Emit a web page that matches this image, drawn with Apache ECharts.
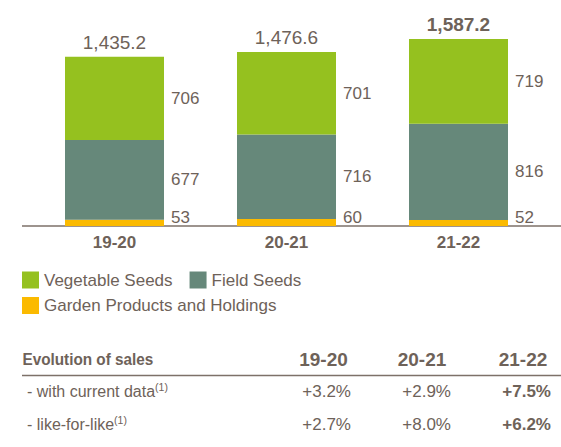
<!DOCTYPE html>
<html><head><meta charset="utf-8">
<script src="https://cdn.jsdelivr.net/npm/echarts@6/dist/echarts.min.js"></script>
<style>html,body{margin:0;padding:0;background:#fff}#c{width:561px;height:447px}</style>
</head><body><div id="c"></div>
<script>
// ---- data ----
const categories = ['19-20', '20-21', '21-22'];
const vegetableSeeds = [706, 701, 719];
const fieldSeeds = [677, 716, 816];
const gardenProducts = [53, 60, 52];
const totalLabels = ['1,435.2', '1,476.6', '1,587.2'];
const seriesNames = ['Vegetable Seeds', 'Field Seeds', 'Garden Products and Holdings'];
const tableTitle = 'Evolution of sales';
const tableColumns = ['19-20', '20-21', '21-22'];
const rowLabels = ['- with current data', '- like-for-like'];
const currentData = ['+3.2%', '+2.9%', '+7.5%'];
const likeForLike = ['+2.7%', '+8.0%', '+6.2%'];

// ---- styling ----
const TXT = '#6e6259';
const LINE = '#7d7169';
const COLORS = { veg: '#95c11f', field: '#66887a', garden: '#fbba00' };
const F = "'Liberation Sans', Arial, sans-serif";

const chart = echarts.init(document.getElementById('c'), null, { renderer: 'svg' });

const segLabel = {
  show: true, position: 'right', distance: 7,
  fontSize: 17, color: TXT, fontFamily: F
};

// table layout
const headerY = 359;
const colCenters = [323.5, 422, 523];
const valRight = [351, 451, 551];
const rowY = [391.5, 424.5];
const graphic = [
  { type: 'line', shape: { x1: 22, y1: 226, x2: 561, y2: 226 }, style: { stroke: LINE, lineWidth: 1.5 } },
  { type: 'text', x: 22.5, y: headerY, scaleX: 0.9, style: { text: tableTitle, fill: TXT, fontSize: 17, fontWeight: 'bold', fontFamily: F, verticalAlign: 'middle' } },
  { type: 'line', shape: { x1: 22, y1: 375.5, x2: 561, y2: 375.5 }, style: { stroke: LINE, lineWidth: 1.5 } }
];
tableColumns.forEach((t, i) => {
  graphic.push({ type: 'text', x: colCenters[i], y: headerY, style: { text: t, fill: TXT, fontSize: 19, fontWeight: 'bold', fontFamily: F, align: 'center', verticalAlign: 'middle' } });
});
[currentData, likeForLike].forEach((row, r) => {
  graphic.push({
    type: 'text', x: 27, y: rowY[r],
    style: {
      text: rowLabels[r] + '{sup|(1)}', fill: TXT, fontSize: 16, fontFamily: F,
      verticalAlign: 'middle', lineHeight: 20,
      rich: { sup: { fontSize: 10.5, fill: TXT, fontFamily: F, verticalAlign: 'top', lineHeight: 12 } }
    }
  });
  row.forEach((v, i) => {
    graphic.push({
      type: 'text', x: valRight[i], y: rowY[r],
      style: { text: v, fill: TXT, fontSize: 17, fontFamily: F, fontWeight: i === 2 ? 'bold' : 'normal', align: 'right', verticalAlign: 'middle' }
    });
  });
});

chart.setOption({
  animation: false,
  backgroundColor: '#fff',
  grid: { left: 28.5, width: 516, top: 14, height: 212 },
  xAxis: {
    type: 'category', data: categories,
    axisLine: { show: false }, axisTick: { show: false },
    axisLabel: { margin: 8, fontSize: 17, fontWeight: 'bold', color: TXT, fontFamily: F }
  },
  yAxis: { type: 'value', min: 0, max: 1800, show: false, splitLine: { show: false } },
  legend: [
    {
      data: [seriesNames[0], seriesNames[1]], left: 22, top: 271.5, padding: 0, orient: 'horizontal',
      itemWidth: 17, itemHeight: 17, itemGap: 17, icon: 'rect',
      textStyle: { fontSize: 17, color: TXT, fontFamily: F }
    },
    {
      data: [seriesNames[2]], left: 22, top: 297, padding: 0, orient: 'horizontal',
      itemWidth: 17, itemHeight: 17, icon: 'rect',
      textStyle: { fontSize: 17, color: TXT, fontFamily: F }
    }
  ],
  series: [
    {
      name: seriesNames[2], type: 'bar', stack: 's', barWidth: 99, data: gardenProducts,
      itemStyle: { color: COLORS.garden },
      label: Object.assign({}, segLabel, { offset: [0, -5] })
    },
    {
      name: seriesNames[1], type: 'bar', stack: 's', barWidth: 99, data: fieldSeeds,
      itemStyle: { color: COLORS.field }, label: segLabel
    },
    {
      name: seriesNames[0], type: 'bar', stack: 's', barWidth: 99, data: vegetableSeeds,
      itemStyle: { color: COLORS.veg }, label: segLabel
    },
    {
      name: 'Total', type: 'bar', stack: 's', barWidth: 99,
      data: totalLabels.map((t, i) => ({
        value: 0,
        label: { formatter: t, fontWeight: i === 2 ? 'bold' : 'normal' }
      })),
      itemStyle: { color: 'transparent' },
      label: { show: true, position: 'top', distance: 5, fontSize: 19, color: TXT, fontFamily: F }
    }
  ],
  graphic: graphic
});
</script>
</body></html>
